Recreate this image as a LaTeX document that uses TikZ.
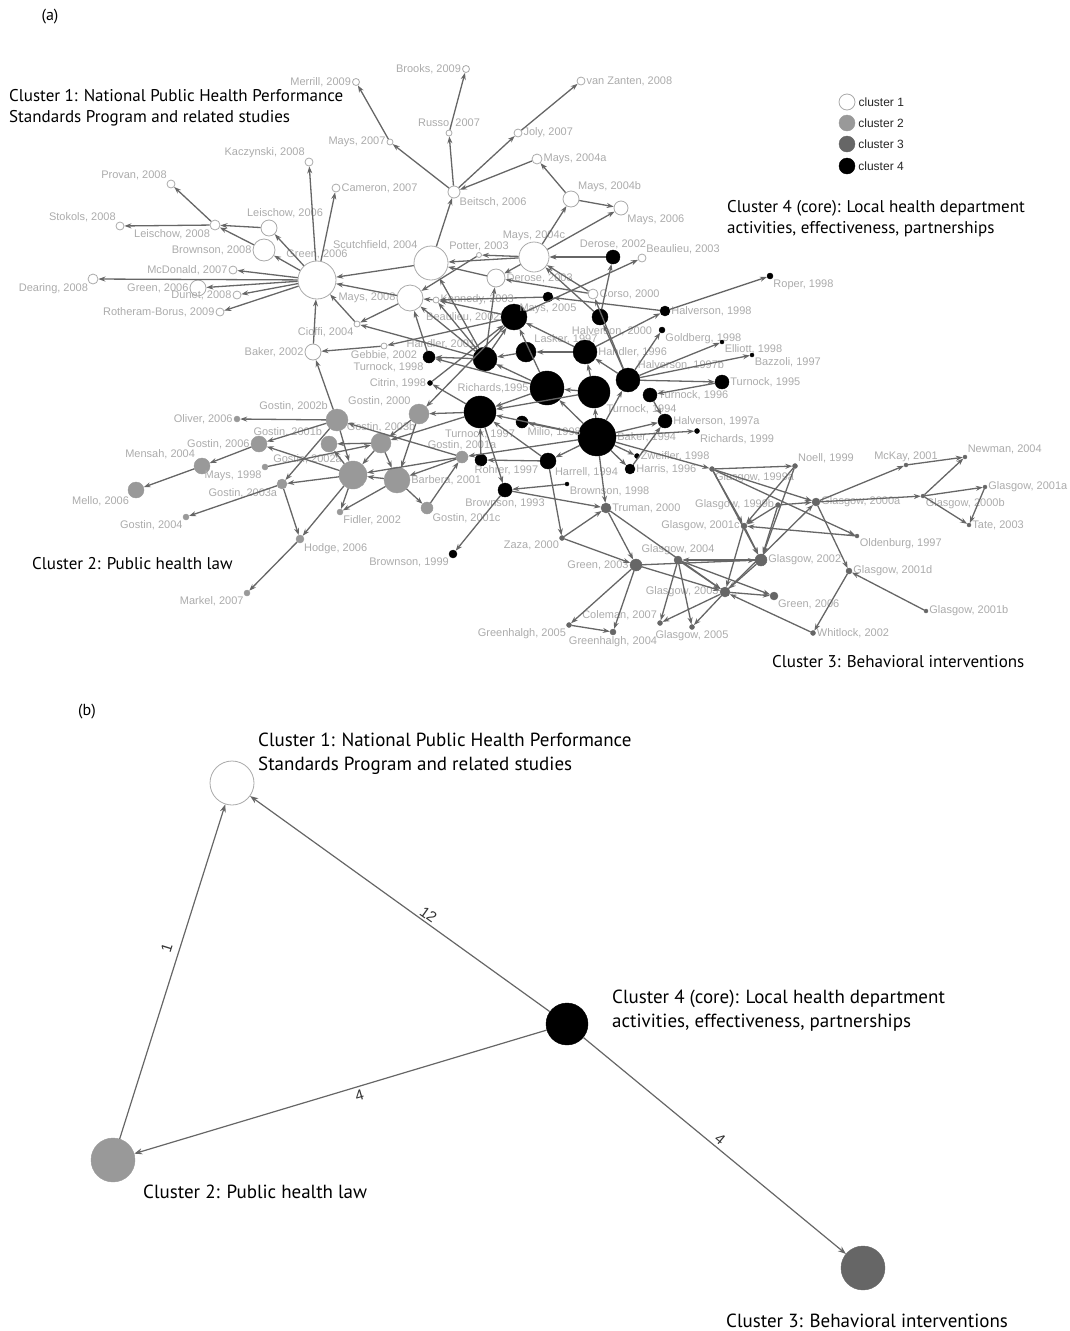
\documentclass[tikz,border=0pt]{standalone}
\usepackage{fontspec}
\setmainfont{PT Sans}
\newfontfamily\lblfont{Liberation Sans}
\usetikzlibrary{arrows.meta}

\definecolor{ringgray}{HTML}{aaaaaa}
\definecolor{medgray}{HTML}{999999}
\definecolor{dimgray}{HTML}{666666}
\definecolor{lblgray}{HTML}{ababab}

\begin{document}
\begin{tikzpicture}[x=1pt, y=-1pt,
    sz/.style={minimum size=#1pt},
    c1/.style={circle, draw=ringgray, fill=white, line width=0.8pt, inner sep=0pt},
    c2/.style={circle, draw=medgray, fill=medgray, inner sep=0pt},
    c3/.style={circle, draw=dimgray, fill=dimgray, inner sep=0pt},
    c4/.style={circle, draw=black, fill=black, inner sep=0pt},
    lbl/.style={font=\lblfont\fontsize{11}{13}\selectfont, text=lblgray, inner sep=1pt},
    keytxt/.style={font=\lblfont\fontsize{12}{14}\selectfont, text=black!85, inner sep=3pt},
    title/.style={font=\fontsize{17}{21}\selectfont, align=left, anchor=west, inner sep=0pt},
    btitle/.style={font=\fontsize{19}{24}\selectfont, align=left, anchor=west, inner sep=0pt},
    citeline/.style={-{Stealth[length=7pt,width=5pt]}, draw=dimgray, line width=1.3pt},
    sumline/.style={-{Stealth[length=8pt,width=6pt]}, draw=dimgray, line width=1.2pt},
    elbl/.style={font=\lblfont\fontsize{15}{16}\selectfont, text=black!80, inner sep=1pt}]
    \useasboundingbox (0,0) rectangle (1070,1331);

    % (a) citation network
    \node[font=\fontsize{16}{18}\selectfont] (parta) at (50,17) {(a)};
    \node[title] (title1) at (9,108) {Cluster 1: National Public Health Performance\\Standards Program and related studies};
    \node[title] (title4) at (727,219) {Cluster 4 (core): Local health department\\activities, effectiveness, partnerships};
    \node[title] (title2) at (32,564) {Cluster 2: Public health law};
    \node[title] (title3) at (772,662) {Cluster 3: Behavioral interventions};

    % legend
    \node[c1, sz=16, label={[keytxt]right:cluster 1}] (key1) at (847,102) {};
    \node[c2, sz=16, label={[keytxt]right:cluster 2}] (key2) at (847,123) {};
    \node[c3, sz=16, label={[keytxt]right:cluster 3}] (key3) at (847,144) {};
    \node[c4, sz=16, label={[keytxt]right:cluster 4}] (key4) at (847,166) {};

    % cluster 1
    \node[c1, sz=7, label={[lbl]left:{Merrill, 2009}}] (merrill09) at (356,82) {};
    \node[c1, sz=7, label={[lbl]left:{Brooks, 2009}}] (brooks09) at (466,69) {};
    \node[c1, sz=8, label={[lbl]right:{van Zanten, 2008}}] (vanzanten08) at (581,81) {};
    \node[c1, sz=6, label={[lbl]above:{Russo, 2007}}] (russo07) at (449,133) {};
    \node[c1, sz=8, label={[lbl]right:{Joly, 2007}}] (joly07) at (518,133) {};
    \node[c1, sz=6, label={[lbl]left:{Mays, 2007}}] (mays07) at (390,142) {};
    \node[c1, sz=10, label={[lbl]right:{Mays, 2004a}}] (mays04a) at (537,159) {};
    \node[c1, sz=8, label={[lbl]right:{Cameron, 2007}}] (cameron07) at (336,188) {};
    \node[c1, sz=12, label={[lbl]below right:{Beitsch, 2006}}] (beitsch06) at (454,192) {};
    \node[c1, sz=16, label={[lbl]above right:{Mays, 2004b}}] (mays04b) at (571,199) {};
    \node[c1, sz=14, label={[lbl]below right:{Mays, 2006}}] (mays06) at (621,208) {};
    \node[c1, sz=8, label={[lbl]above left:{Kaczynski, 2008}}] (kacz08) at (309,162) {};
    \node[c1, sz=8, label={[lbl]above left:{Provan, 2008}}] (provan08) at (171,184) {};
    \node[c1, sz=8, label={[lbl]above left:{Stokols, 2008}}] (stokols08) at (120,226) {};
    \node[c1, sz=10, label={[lbl]below left:{Leischow, 2008}}] (leis08) at (215,225) {};
    \node[c1, sz=16, label={[lbl,xshift=16pt]above:{Leischow, 2006}}] (leis06) at (269,228) {};
    \node[c1, sz=22, label={[lbl]left:{Brownson, 2008}}] (brown08) at (264,250) {};
    \node[c1, sz=38, label={[lbl]above:{Green, 2006}}] (green06) at (317,280) {};
    \node[c1, sz=8, label={[lbl]left:{McDonald, 2007}}] (mcdon07) at (233,270) {};
    \node[c1, sz=10, label={[lbl]below left:{Dearing, 2008}}] (dearing08) at (93,279) {};
    \node[c1, sz=16, label={[lbl]left:{Green, 2006}}] (greenb06) at (198,288) {};
    \node[c1, sz=8, label={[lbl]left:{Dunet, 2008}}] (dunet08) at (237,295) {};
    \node[c1, sz=8, label={[lbl]left:{Rotheram-Borus, 2009}}] (rother09) at (220,312) {};
    \node[c1, sz=34, label={[lbl]above left:{Scutchfield, 2004}}] (scutch04) at (431,263) {};
    \node[c1, sz=5, label={[lbl]above:{Potter, 2003}}] (potter03) at (479,255) {};
    \node[c1, sz=30, label={[lbl]above:{Mays, 2004c}}] (mays04c) at (534,257) {};
    \node[c1, sz=18, label={[lbl]right:{Derose, 2003}}] (derose03) at (496,278) {};
    \node[c1, sz=6, label={[lbl]right:{Kennedy, 2003}}] (kennedy03) at (436,300) {};
    \node[c1, sz=26, label={[lbl]left:{Mays, 2008}}] (mays08) at (410,298) {};
    \node[c1, sz=10, label={[lbl]right:{Corso, 2000}}] (corso00) at (593,294) {};
    \node[c1, sz=8, label={[lbl]above right:{Beaulieu, 2003}}] (beaulieu03) at (642,258) {};
    \node[c1, sz=6, label={[lbl]below left:{Cioffi, 2004}}] (cioffi04) at (357,324) {};
    \node[c1, sz=16, label={[lbl]left:{Baker, 2002}}] (baker02) at (313,352) {};
    \node[c1, sz=6, label={[lbl]below:{Gebbie, 2002}}] (gebbie02) at (384,346) {};

    % cluster 4 (core)
    \node[c4, sz=26, label={[lbl]left:{Beaulieu, 2002}}] (beaulieu02) at (514,317) {};
    \node[c4, sz=24, label={[lbl]above left:{Handler, 2001}}] (handler01) at (485,359) {};
    \node[c4, sz=20, label={[lbl]above right:{Lasker, 1997}}] (lasker97) at (526,352) {};
    \node[c4, sz=24, label={[lbl]right:{Handler, 1996}}] (handler96) at (585,352) {};
    \node[c4, sz=16, label={[lbl,xshift=12pt]below:{Halverson, 2000}}] (halverson00) at (600,317) {};
    \node[c4, sz=10, label={[lbl]below:{Mays, 2005}}] (mays05) at (548,297) {};
    \node[c4, sz=34, label={[lbl]left:{Richards,1995}}] (richards95) at (547,388) {};
    \node[c4, sz=32, label={[lbl]below right:{Turnock, 1994}}] (turnock94) at (594,392) {};
    \node[c4, sz=24, label={[lbl]above right:{Halverson, 1997b}}] (halverson97b) at (628,380) {};
    \node[c4, sz=14, label={[lbl]right:{Turnock, 1996}}] (turnock96) at (650,395) {};
    \node[c4, sz=14, label={[lbl]right:{Halverson, 1997a}}] (halverson97a) at (665,421) {};
    \node[c4, sz=5, label={[lbl]below right:{Richards, 1999}}] (richards99) at (697,431) {};
    \node[c4, sz=38, label={[lbl]right:{Baker, 1994}}] (baker94) at (597,437) {};
    \node[c4, sz=32, label={[lbl]below:{Turnock, 1997}}] (turnock97) at (480,412) {};
    \node[c4, sz=12, label={[lbl]below right:{Milio, 1998}}] (milio98) at (522,422) {};
    \node[c4, sz=12, label={[lbl,xshift=-12pt]below right:{Rohrer, 1997}}] (rohrer97) at (481,460) {};
    \node[c4, sz=16, label={[lbl]below right:{Harrell, 1994}}] (harrell94) at (548,461) {};
    \node[c4, sz=10, label={[lbl]right:{Harris, 1996}}] (harris96) at (630,469) {};
    \node[c4, sz=5, label={[lbl]right:{Zweifler, 1998}}] (zweifler98) at (637,456) {};
    \node[c4, sz=4, label={[lbl]below right:{Brownson, 1998}}] (brownson98) at (567,484) {};
    \node[c4, sz=14, label={[lbl]below:{Brownson, 1993}}] (brownson93) at (505,490) {};
    \node[c4, sz=8, label={[lbl]below left:{Brownson, 1999}}] (brownson99) at (453,554) {};
    \node[c4, sz=12, label={[lbl]below left:{Turnock, 1998}}] (turnock98) at (429,357) {};
    \node[c4, sz=5, label={[lbl]left:{Citrin, 1998}}] (citrin98) at (430,383) {};
    \node[c4, sz=14, label={[lbl]above:{Derose, 2002}}] (derose02) at (613,257) {};
    \node[c4, sz=10, label={[lbl]right:{Halverson, 1998}}] (halverson98) at (665,311) {};
    \node[c4, sz=6, label={[lbl]below right:{Goldberg, 1998}}] (goldberg98) at (662,330) {};
    \node[c4, sz=6, label={[lbl]below right:{Roper, 1998}}] (roper98) at (770,276) {};
    \node[c4, sz=4, label={[lbl]below right:{Elliott, 1998}}] (elliott98) at (722,342) {};
    \node[c4, sz=4, label={[lbl]below right:{Bazzoli, 1997}}] (bazzoli97) at (752,355) {};
    \node[c4, sz=14, label={[lbl]right:{Turnock, 1995}}] (turnock95) at (722,382) {};

    % cluster 2
    \node[c2, sz=22, label={[lbl]above left:{Gostin, 2002b}}] (gostin02b) at (337,420) {};
    \node[c2, sz=6, label={[lbl]left:{Oliver, 2006}}] (oliver06) at (237,419) {};
    \node[c2, sz=16, label={[lbl]left:{Gostin, 2006}}] (gostin06) at (259,444) {};
    \node[c2, sz=16, label={[lbl]above left:{Gostin, 2001b}}] (gostin01b) at (329,444) {};
    \node[c2, sz=16, label={[lbl]above left:{Mensah, 2004}}] (mensah04) at (202,466) {};
    \node[c2, sz=6, label={[lbl]below left:{Mays, 1998}}] (mays98) at (265,467) {};
    \node[c2, sz=16, label={[lbl]below left:{Mello, 2006}}] (mello06) at (136,490) {};
    \node[c2, sz=10, label={[lbl]below left:{Gostin, 2003a}}] (gostin03a) at (282,484) {};
    \node[c2, sz=6, label={[lbl]below left:{Gostin, 2004}}] (gostin04) at (186,517) {};
    \node[c2, sz=8, label={[lbl]below right:{Hodge, 2006}}] (hodge06) at (300,539) {};
    \node[c2, sz=6, label={[lbl]below left:{Markel, 2007}}] (markel07) at (247,593) {};
    \node[c2, sz=6, label={[lbl]below right:{Fidler, 2002}}] (fidler02) at (340,512) {};
    \node[c2, sz=28, label={[lbl]above left:{Gostin, 2002a}}] (gostin02a) at (353,475) {};
    \node[c2, sz=20, label={[lbl]above:{Gostin, 2003b}}] (gostin03b) at (381,443) {};
    \node[c2, sz=26, label={[lbl]right:{Barbera, 2001}}] (barbera01) at (397,480) {};
    \node[c2, sz=20, label={[lbl]above left:{Gostin, 2000}}] (gostin00) at (419,414) {};
    \node[c2, sz=12, label={[lbl]above:{Gostin, 2001a}}] (gostin01a) at (462,457) {};
    \node[c2, sz=12, label={[lbl]below right:{Gostin, 2001c}}] (gostin01c) at (427,508) {};

    % cluster 3
    \node[c3, sz=10, label={[lbl]right:{Truman, 2000}}] (truman00) at (606,508) {};
    \node[c3, sz=5, label={[lbl]below left:{Zaza, 2000}}] (zaza00) at (562,538) {};
    \node[c3, sz=12, label={[lbl]left:{Green, 2003}}] (green03) at (636,565) {};
    \node[c3, sz=8, label={[lbl]above:{Glasgow, 2004}}] (glasgow04) at (678,560) {};
    \node[c3, sz=12, label={[lbl]right:{Glasgow, 2002}}] (glasgow02) at (761,560) {};
    \node[c3, sz=10, label={[lbl]left:{Glasgow, 2003}}] (glasgow03) at (725,592) {};
    \node[c3, sz=8, label={[lbl]below right:{Green, 2006}}] (green06s) at (774,596) {};
    \node[c3, sz=5, label={[lbl]above left:{Coleman, 2007}}] (coleman07) at (660,623) {};
    \node[c3, sz=5, label={[lbl]below:{Glasgow, 2005}}] (glasgow05) at (692,627) {};
    \node[c3, sz=5, label={[lbl]below left:{Greenhalgh, 2005}}] (greenhalgh05) at (569,625) {};
    \node[c3, sz=6, label={[lbl]below:{Greenhalgh, 2004}}] (greenhalgh04) at (613,632) {};
    \node[c3, sz=5, label={[lbl]right:{Whitlock, 2002}}] (whitlock02) at (813,633) {};
    \node[c3, sz=4, label={[lbl]right:{Glasgow, 2001b}}] (glasgow01b) at (926,611) {};
    \node[c3, sz=6, label={[lbl]right:{Glasgow, 2001d}}] (glasgow01d) at (849,571) {};
    \node[c3, sz=4, label={[lbl]below right:{Oldenburg, 1997}}] (oldenburg97) at (857,536) {};
    \node[c3, sz=6, label={[lbl]left:{Glasgow, 2001c}}] (glasgow01c) at (744,526) {};
    \node[c3, sz=5, label={[lbl]left:{Glasgow, 1999b}}] (glasgow99b) at (778,505) {};
    \node[c3, sz=5, label={[lbl]below right:{Glasgow, 1999a}}] (glasgow99a) at (712,469) {};
    \node[c3, sz=5, label={[lbl]above right:{Noell, 1999}}] (noell99) at (795,466) {};
    \node[c3, sz=8, label={[lbl]right:{Glasgow, 2000a}}] (glasgow00a) at (816,502) {};
    \node[c3, sz=4, label={[lbl]above:{McKay, 2001}}] (mckay01) at (906,465) {};
    \node[c3, sz=4, label={[lbl]above right:{Newman, 2004}}] (newman04) at (965,457) {};
    \node[c3, sz=4, label={[lbl]below right:{Glasgow, 2000b}}] (glasgow00b) at (923,496) {};
    \node[c3, sz=4, label={[lbl]right:{Glasgow, 2001a}}] (glasgow01a) at (985,487) {};
    \node[c3, sz=4, label={[lbl]right:{Tate, 2003}}] (tate03) at (969,525) {};

    % citations, cluster 1
    \path[citeline] (green06) edge (kacz08) (green06) edge (cameron07) (green06) edge (leis06) (green06) edge (brown08);
    \path[citeline] (leis06) edge (leis08) (brown08) edge (leis08) (leis08) edge (provan08) (leis08) edge (stokols08);
    \path[citeline] (green06) edge (mcdon07) (green06) edge (greenb06) (green06) edge (dearing08) (green06) edge (dunet08) (green06) edge (rother09);
    \path[citeline] (scutch04) edge (green06) (mays08) edge (green06) (cioffi04) edge (green06) (baker02) edge (green06);
    \path[citeline] (mays08) edge (cioffi04) (gebbie02) edge (baker02) (gostin02b) edge (baker02);
    \path[citeline] (scutch04) edge (beitsch06) (beitsch06) edge (mays07) (beitsch06) edge (russo07) (beitsch06) edge (joly07);
    \path[citeline] (mays07) edge (merrill09) (russo07) edge (brooks09) (joly07) edge (vanzanten08) (mays04a) edge (beitsch06);
    \path[citeline] (mays04b) edge (mays04a) (mays04b) edge (mays06) (mays04c) edge (mays04b) (mays04c) edge (mays06);
    \path[citeline] (mays04c) edge (scutch04) (derose03) edge (scutch04) (mays04c) edge (derose03) (mays04c) edge (potter03);
    \path[citeline] (potter03) edge (mays08) (derose02) edge (mays04c) (corso00) edge (mays04c) (corso00) edge (derose03);
    \path[citeline] (kennedy03) edge (mays08) (beaulieu02) edge (kennedy03) (mays05) edge (kennedy03) (handler01) edge (derose03);
    \path[citeline] (handler01) edge (scutch04) (handler01) edge (cioffi04) (beaulieu02) edge (gebbie02) (turnock98) edge (mays08);
    \path[citeline] (halverson00) edge (mays04c) (beaulieu02) edge (beaulieu03) (halverson97b) edge (corso00);

    % citations, cluster 4
    \path[citeline] (halverson98) edge (mays05) (halverson98) edge (roper98) (handler96) edge (halverson98) (halverson00) edge (derose02);
    \path[citeline] (halverson97b) edge (goldberg98) (halverson97b) edge (elliott98) (halverson97b) edge (bazzoli97) (halverson97b) edge (turnock95);
    \path[citeline] (turnock95) edge (turnock96) (lasker97) edge (handler01) (richards95) edge (handler01) (handler96) edge (beaulieu02);
    \path[citeline] (handler01) edge (beaulieu02) (citrin98) edge (beaulieu02) (handler96) edge (lasker97) (halverson97b) edge (handler96);
    \path[citeline] (turnock94) edge (richards95) (richards95) edge (turnock97) (turnock94) edge (turnock97) (harrell94) edge (turnock97);
    \path[citeline] (rohrer97) edge (turnock97) (baker94) edge (milio98) (baker94) edge (harrell94) (baker94) edge (harris96);
    \path[citeline] (baker94) edge (halverson97a) (baker94) edge (richards99) (baker94) edge (zweifler98) (baker94) edge (turnock94);
    \path[citeline] (baker94) edge (halverson97b) (baker94) edge (richards95) (harris96) edge (halverson97a) (turnock96) edge (halverson97a);
    \path[citeline] (handler01) edge (turnock98) (richards95) edge (turnock98) (turnock97) edge (citrin98) (handler01) edge (mays08);
    \path[citeline] (handler01) edge (kennedy03) (halverson97b) edge (halverson00) (richards95) edge (beaulieu02) (turnock94) edge (handler96);
    \path[citeline] (baker94) edge (turnock97) (harrell94) edge (rohrer97) (turnock97) edge (brownson93) (brownson93) edge (brownson99);
    \path[citeline] (brownson98) edge (brownson93) (brownson93) edge (truman00) (harrell94) edge (zaza00) (baker94) edge (truman00);
    \path[citeline] (baker94) edge (gostin01a) (beaulieu02) edge (gostin00) (turnock97) edge (gostin00) (turnock97) edge (gostin03b);

    % citations, cluster 2
    \path[citeline] (gostin02b) edge (oliver06) (gostin02b) edge (gostin06) (gostin02a) edge (gostin06) (gostin06) edge (mensah04);
    \path[citeline] (mensah04) edge (mello06) (gostin02b) edge (gostin03a) (gostin02a) edge (gostin03a) (mays98) edge (gostin03b);
    \path[citeline] (gostin03a) edge (gostin04) (gostin03a) edge (hodge06) (gostin02a) edge (hodge06) (hodge06) edge (markel07);
    \path[citeline] (gostin02a) edge (fidler02) (barbera01) edge (fidler02) (gostin03b) edge (gostin01b) (gostin01a) edge (gostin02b);
    \path[citeline] (gostin01a) edge (gostin02a) (gostin01a) edge (barbera01) (gostin01c) edge (gostin01a) (barbera01) edge (gostin01c);
    \path[citeline] (gostin00) edge (barbera01) (gostin00) edge (gostin03b) (gostin03b) edge (gostin02a) (gostin03b) edge (barbera01);
    \path[citeline] (barbera01) edge (gostin02a) (gostin02b) edge (gostin02a) (gostin02a) edge (gostin01b);

    % citations, cluster 3
    \path[citeline] (baker94) edge (glasgow99a) (glasgow99a) edge (noell99) (glasgow99a) edge (glasgow01c) (glasgow99a) edge (glasgow00a);
    \path[citeline] (glasgow99a) edge (oldenburg97) (glasgow99a) edge (glasgow02) (noell99) edge (glasgow01c) (noell99) edge (glasgow02);
    \path[citeline] (glasgow99b) edge (glasgow00a) (glasgow99b) edge (glasgow01c) (glasgow99b) edge (glasgow02) (oldenburg97) edge (glasgow01c);
    \path[citeline] (glasgow00a) edge (mckay01) (glasgow00a) edge (glasgow00b) (glasgow00a) edge (glasgow01d) (glasgow00b) edge (newman04);
    \path[citeline] (mckay01) edge (newman04) (glasgow00b) edge (glasgow01a) (glasgow00b) edge (tate03) (glasgow01a) edge (tate03);
    \path[citeline] (glasgow01b) edge (glasgow01d) (glasgow01d) edge (whitlock02) (glasgow01c) edge (glasgow02) (glasgow01c) edge (glasgow03);
    \path[citeline] (glasgow02) edge (glasgow04) (green03) edge (glasgow02) (glasgow03) edge (glasgow00a) (glasgow02) edge (glasgow03);
    \path[citeline] (green03) edge (glasgow03) (glasgow04) edge (glasgow03) (glasgow04) edge (green06s) (glasgow03) edge (green06s);
    \path[citeline] (glasgow04) edge (coleman07) (glasgow04) edge (glasgow05) (glasgow03) edge (coleman07) (glasgow03) edge (glasgow05);
    \path[citeline] (green03) edge (greenhalgh05) (green03) edge (greenhalgh04) (greenhalgh05) edge (greenhalgh04) (whitlock02) edge (glasgow03);
    \path[citeline] (truman00) edge (green03) (truman00) edge (glasgow03) (zaza00) edge (truman00) (zaza00) edge (green03);

    % (b) cluster summary
    \node[font=\fontsize{16}{18}\selectfont] (partb) at (87,712) {(b)};
    \node[c1, sz=44] (k1) at (232,783) {};
    \node[c4, sz=42] (k4) at (567,1024) {};
    \node[c2, sz=44] (k2) at (113,1160) {};
    \node[c3, sz=44] (k3) at (863,1268) {};
    \node[btitle] (bt1) at (258,754) {Cluster 1: National Public Health Performance\\Standards Program and related studies};
    \node[btitle] (bt4) at (612,1011) {Cluster 4 (core): Local health department\\activities, effectiveness, partnerships};
    \node[btitle] (bt2) at (143,1192) {Cluster 2: Public health law};
    \node[btitle] (bt3) at (726,1321) {Cluster 3: Behavioral interventions};
    \draw[sumline] (k2) -- node[elbl, sloped, above=6pt, pos=0.56] {1} (k1);
    \draw[sumline] (k4) -- node[elbl, sloped, above=1pt, pos=0.42] {12} (k1);
    \draw[sumline] (k4) -- node[elbl, sloped, below=2pt, pos=0.46] {4} (k2);
    \draw[sumline] (k4) -- node[elbl, sloped, above=2pt, pos=0.5] {4} (k3);
\end{tikzpicture}
\end{document}
